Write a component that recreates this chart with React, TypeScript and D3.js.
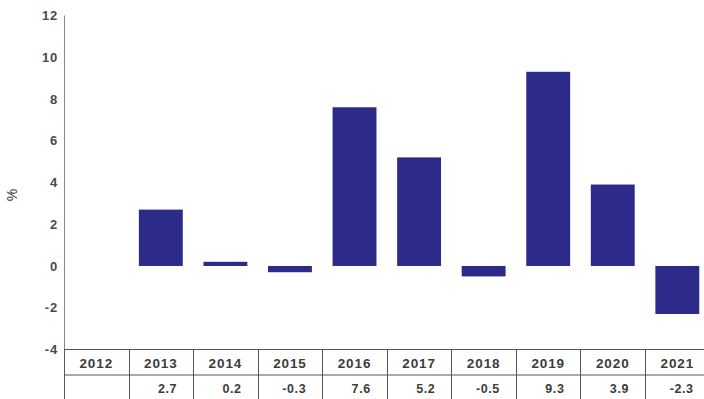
import React from "react";
import * as d3 from "d3";

const years = ["2012", "2013", "2014", "2015", "2016", "2017", "2018", "2019", "2020", "2021"];
const values: (number | null)[] = [null, 2.7, 0.2, -0.3, 7.6, 5.2, -0.5, 9.3, 3.9, -2.3];
const valueLabels = ["", "2.7", "0.2", "-0.3", "7.6", "5.2", "-0.5", "9.3", "3.9", "-2.3"];
const yTicks = [12, 10, 8, 6, 4, 2, 0, -2, -4];
const yLabel = "%";

const W = 704;
const H = 399;
const left = 64;
const right = 709.6;
const yTop = 15.4;
const yBot = 349.5;
const rowMid = 375;
const rowBot = 401;

export default function App() {
  const x = d3.scaleBand<string>().domain(years).range([left, right]).paddingInner(0.32).paddingOuter(0.16);
  const xCol = d3.scaleBand<string>().domain(years).range([left, right]).padding(0);
  const y = d3.scaleLinear().domain([-4, 12]).range([yBot, yTop]);
  const font = "'Liberation Sans', Arial, sans-serif";
  return (
    <svg width={W} height={H} style={{ position: "absolute", left: 0, top: 0, background: "#fff" }}>
      <rect x={0} y={0} width={W} height={H} fill="#fff" />
      {/* y axis */}
      <line x1={left + 0.5} x2={left + 0.5} y1={y(12)} y2={H} stroke="#8a8a8a" strokeWidth={1} />
      {yTicks.map((t) => (
        <text
          key={t}
          x={58}
          y={y(t)}
          dy="0.36em"
          textAnchor="end"
          fontFamily={font}
          fontWeight="bold"
          fontSize={13}
          letterSpacing={0.8}
          fill="#4a4a4a"
        >
          {t}
        </text>
      ))}
      <text
        transform={`translate(17,195) rotate(-90)`}
        textAnchor="middle"
        fontFamily={font}
        fontSize={14}
        fill="#333"
      >
        {yLabel}
      </text>
      {/* bars */}
      {years.map((yr, i) => {
        const v = values[i];
        if (v === null) return null;
        const y0 = y(0);
        const y1 = y(v);
        return (
          <rect
            key={yr}
            x={x(yr)}
            y={Math.min(y0, y1)}
            width={x.bandwidth()}
            height={Math.max(Math.abs(y1 - y0), 2.5)}
            fill="#2d2b8a"
          />
        );
      })}
      {/* table */}
      <line x1={left} x2={W} y1={yBot} y2={yBot} stroke="#555" />
      <line x1={left} x2={W} y1={rowMid} y2={rowMid} stroke="#555" />
      {years.map((yr, i) => (
        <g key={yr}>
          <line
            x1={Math.round(xCol(yr)!) + 0.5}
            x2={Math.round(xCol(yr)!) + 0.5}
            y1={yBot}
            y2={H}
            stroke="#555"
          />
          <text
            x={xCol(yr)! + xCol.bandwidth() / 2}
            y={368}
            textAnchor="middle"
            fontFamily={font}
            fontWeight="bold"
            fontSize={13.5}
            letterSpacing={0.9}
            fill="#3c3c3c"
          >
            {yr}
          </text>
          <text
            x={xCol(yr)! + xCol.bandwidth() - 16}
            y={393}
            textAnchor="end"
            fontFamily={font}
            fontWeight="bold"
            fontSize={12.5}
            letterSpacing={0.6}
            fill="#3c3c3c"
          >
            {valueLabels[i]}
          </text>
        </g>
      ))}
    </svg>
  );
}
